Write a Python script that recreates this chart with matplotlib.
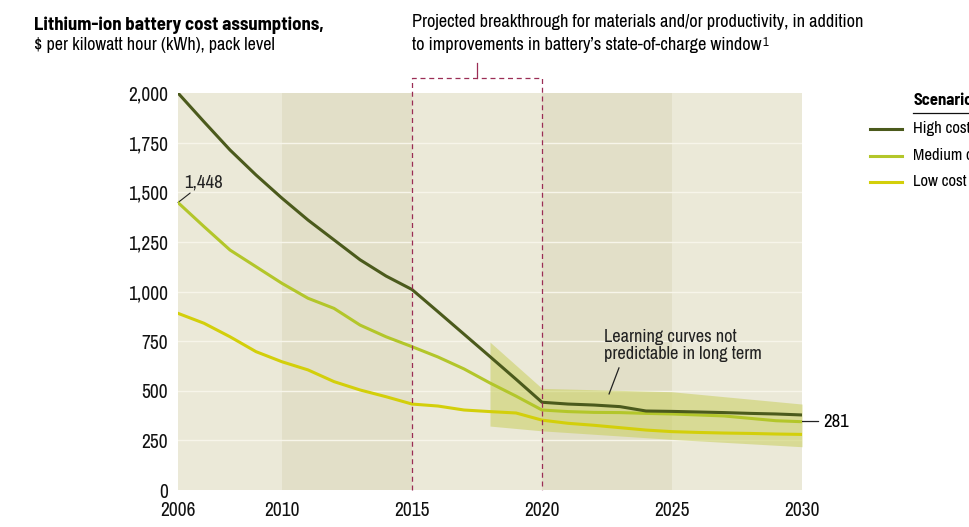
import matplotlib
matplotlib.use('Agg')
import matplotlib.pyplot as plt
from matplotlib import font_manager

# condensed faces close to the source's narrow grotesque
names = {f.name for f in font_manager.fontManager.ttflist}
regular_font = 'Archivo Narrow' if 'Archivo Narrow' in names else 'Liberation Sans'
bold_font = 'Barlow Semi Condensed' if 'Barlow Semi Condensed' in names else regular_font
plt.rcParams['font.family'] = [regular_font, 'DejaVu Sans']

# data
years = list(range(2006, 2031))
high_cost = [2000, 1855, 1713, 1587, 1470, 1360, 1260, 1160, 1078, 1010,
             898, 785, 672, 558, 442, 433, 428, 420, 398, 396,
             393, 390, 386, 383, 378]
medium_cost = [1448, 1327, 1209, 1125, 1041, 966, 915, 831, 772, 722,
               670, 610, 539, 473, 403, 395, 391, 390, 386, 383,
               378, 373, 361, 349, 344]
low_cost = [890, 840, 772, 697, 646, 605, 546, 504, 470, 433,
            423, 403, 395, 388, 352, 336, 326, 314, 302, 294,
            290, 287, 285, 282, 280]

band_years = [2018, 2020, 2025, 2030]
band_upper = [745, 512, 495, 433]
band_lower = [322, 298, 255, 218]

y_ticks = [0, 250, 500, 750, 1000, 1250, 1500, 1750, 2000]
x_ticks = [2006, 2010, 2015, 2020, 2025, 2030]
shaded_spans = [(2010, 2015), (2020, 2025)]

c_high = '#4b5a1c'
c_med = '#b3c62a'
c_low = '#d3cf0a'

W, H = 969, 527
fig = plt.figure(figsize=(W / 100, H / 100), dpi=100)
ax = fig.add_axes([178 / W, 37 / H, 624 / W, 397 / H])
ax.set_facecolor('#ebe9d8')

for a, b in shaded_spans:
    ax.axvspan(a, b, color='#e2dfc8', lw=0, zorder=0)
for t in y_ticks[1:-1]:
    ax.axhline(t, color='#f7f5ea', lw=1.0, zorder=1)

ax.fill_between(band_years, band_lower, band_upper, color='#c9cf5e',
                alpha=0.55, lw=0, zorder=2)

ax.plot(years, low_cost, color=c_low, lw=2.2, zorder=3)
ax.plot(years, medium_cost, color=c_med, lw=2.2, zorder=4)
ax.plot(years, high_cost, color=c_high, lw=2.2, zorder=5)

ax.set_xlim(2006, 2030)
ax.set_ylim(0, 2000)
ax.set_xticks(x_ticks)
ax.set_yticks(y_ticks)
ax.set_yticklabels([f'{v:,}' for v in y_ticks])
ax.tick_params(length=0, labelsize=14, colors='#111111')
ax.tick_params(axis='y', pad=7)
ax.tick_params(axis='x', pad=8)
for s in ax.spines.values():
    s.set_visible(False)

# dashed box for the breakthrough window
box_c = '#9b2d55'
ax.plot([2015, 2015, 2020, 2020], [0, 2075, 2075, 0], color=box_c, lw=0.9,
        ls=(0, (4, 3)), clip_on=False, zorder=6)
ax.plot([2017.5, 2017.5], [2075, 2150], color=box_c, lw=0.9, clip_on=False)

# annotations
ax.annotate('1,448', xy=(2006, medium_cost[0]), xytext=(2006.25, 1510),
            fontsize=13.5, color='#222222', va='bottom', ha='left',
            arrowprops=dict(arrowstyle='-', color='#222222', lw=0.8,
                            shrinkA=0, shrinkB=0))
ax.annotate('281', xy=(2030, 345), xytext=(2030.8, 345), fontsize=13.5,
            va='center', ha='left', annotation_clip=False,
            arrowprops=dict(arrowstyle='-', color='#222222', lw=0.9,
                            shrinkA=1, shrinkB=0))
ax.text(2022.4, 645, 'Learning curves not\npredictable in long term',
        fontsize=13.2, color='#222222', va='bottom', ha='left',
        linespacing=1.05)
ax.plot([2022.96, 2022.58], [615, 484], color='#222222', lw=0.9, zorder=6)

fig.text(34 / W, 1 - 30 / H, 'Lithium-ion battery cost assumptions,',
         fontsize=13.5, fontweight='bold', family=bold_font, va='baseline')
fig.text(34 / W, 1 - 50 / H, '$ per kilowatt hour (kWh), pack level',
         fontsize=13, va='baseline')
fig.text(412 / W, 1 - 27 / H,
         'Projected breakthrough for materials and/or productivity, in addition',
         fontsize=13.2, va='baseline')
line2 = fig.text(412 / W, 1 - 50 / H,
                 "to improvements in battery\u2019s state-of-charge window",
                 fontsize=13.2, va='baseline')
fig.canvas.draw()
ax.annotate('1', xy=(1.0, 1.0), xycoords=line2, xytext=(1, 0),
            textcoords='offset points', fontsize=9, va='top', ha='left')

# legend on the right, cut by the figure edge like the source
fig.text(913 / W, 1 - 105 / H, 'Scenario', fontsize=12, fontweight='bold',
         family=bold_font, va='baseline')
fig.add_artist(plt.Line2D([913 / W, 1.0], [1 - 113 / H, 1 - 113 / H],
                          color='#111111', lw=0.9))
legend_items = [('High cost', c_high), ('Medium cost', c_med), ('Low cost', c_low)]
for i, (name, col) in enumerate(legend_items):
    yy = 1 - (129 + 26.5 * i) / H
    fig.add_artist(plt.Line2D([870 / W, 902 / W], [yy, yy], color=col, lw=2.2))
    fig.text(913 / W, yy, name, fontsize=12, va='center')

fig.savefig('out.png', dpi=100, facecolor='white')
